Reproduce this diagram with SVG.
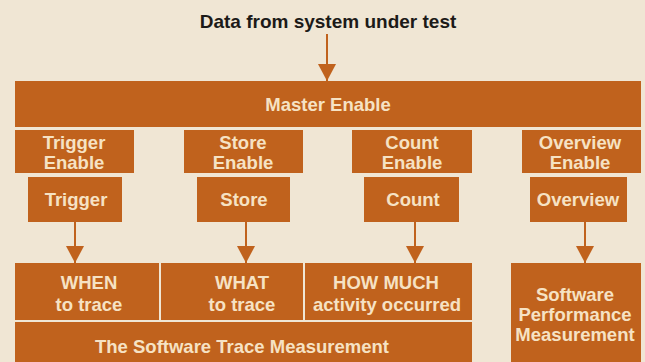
<svg xmlns="http://www.w3.org/2000/svg" width="645" height="362" viewBox="0 0 645 362">
  <style>
    .box { fill: #c0621d; }
    .lbl { font-family: "Liberation Sans", Arial, Helvetica, sans-serif; font-weight: bold; font-size: 18.5px; fill: #f6e2c4; text-anchor: middle; }
    .title { font-family: "Liberation Sans", Arial, Helvetica, sans-serif; font-weight: bold; font-size: 19px; fill: #1c1a18; text-anchor: middle; }
    .wire { stroke: #c0621d; stroke-width: 2; fill: none; }
  </style>
  <defs>
    <!-- arrowhead drawn along +x so orient="auto" points it down the line -->
    <marker id="head" viewBox="0 0 17 18" refX="17" refY="9" markerWidth="17" markerHeight="18" markerUnits="userSpaceOnUse" orient="auto">
      <path d="M0,0 L17,9 L0,18 Z" fill="#c0621d"/>
    </marker>
  </defs>

  <rect width="645" height="362" fill="#f0e6d4"/>

  <text class="title" x="328" y="28">Data from system under test</text>

  <g id="connectors">
    <line class="wire" x1="327" y1="34" x2="327" y2="81" marker-end="url(#head)"/>
    <line class="wire" x1="75" y1="222" x2="75" y2="263" marker-end="url(#head)"/>
    <line class="wire" x1="246" y1="222" x2="246" y2="263" marker-end="url(#head)"/>
    <line class="wire" x1="415" y1="222" x2="415" y2="263" marker-end="url(#head)"/>
    <line class="wire" x1="585" y1="222" x2="585" y2="263" marker-end="url(#head)"/>
  </g>

  <g id="master-enable">
    <rect class="box" x="15" y="81" width="626" height="46"/>
    <text class="lbl" x="328" y="111">Master Enable</text>
  </g>

  <g id="trigger-enable">
    <rect class="box" x="15" y="130" width="119" height="43"/>
    <text class="lbl" x="74" y="149">Trigger</text>
    <text class="lbl" x="74" y="169">Enable</text>
  </g>
  <g id="store-enable">
    <rect class="box" x="184" y="130" width="119" height="43"/>
    <text class="lbl" x="243" y="149">Store</text>
    <text class="lbl" x="243" y="169">Enable</text>
  </g>
  <g id="count-enable">
    <rect class="box" x="352" y="130" width="120" height="43"/>
    <text class="lbl" x="412" y="149">Count</text>
    <text class="lbl" x="412" y="169">Enable</text>
  </g>
  <g id="overview-enable">
    <rect class="box" x="522" y="130" width="119" height="43"/>
    <text class="lbl" x="580" y="149">Overview</text>
    <text class="lbl" x="580" y="169">Enable</text>
  </g>

  <g id="trigger">
    <rect class="box" x="28" y="177" width="94" height="45"/>
    <text class="lbl" x="76" y="206">Trigger</text>
  </g>
  <g id="store">
    <rect class="box" x="197" y="177" width="93" height="45"/>
    <text class="lbl" x="244" y="206">Store</text>
  </g>
  <g id="count">
    <rect class="box" x="364" y="177" width="95" height="45"/>
    <text class="lbl" x="413" y="206">Count</text>
  </g>
  <g id="overview">
    <rect class="box" x="530" y="177" width="97" height="45"/>
    <text class="lbl" x="578" y="206">Overview</text>
  </g>

  <g id="when">
    <rect class="box" x="15" y="263" width="144" height="57"/>
    <text class="lbl" x="89" y="289">WHEN</text>
    <text class="lbl" x="89" y="311">to trace</text>
  </g>
  <g id="what">
    <rect class="box" x="161" y="263" width="142" height="57"/>
    <text class="lbl" x="242" y="289">WHAT</text>
    <text class="lbl" x="242" y="311">to trace</text>
  </g>
  <g id="how-much">
    <rect class="box" x="305" y="263" width="167" height="57"/>
    <text class="lbl" x="386" y="289">HOW MUCH</text>
    <text class="lbl" x="387" y="311">activity occurred</text>
  </g>
  <g id="trace-measurement">
    <rect class="box" x="15" y="322" width="457" height="40"/>
    <text class="lbl" x="242" y="353">The Software Trace Measurement</text>
  </g>
  <g id="performance-measurement">
    <rect class="box" x="511" y="263" width="130" height="99"/>
    <text class="lbl" x="575" y="301">Software</text>
    <text class="lbl" x="575" y="321">Performance</text>
    <text class="lbl" x="575" y="341">Measurement</text>
  </g>
</svg>
